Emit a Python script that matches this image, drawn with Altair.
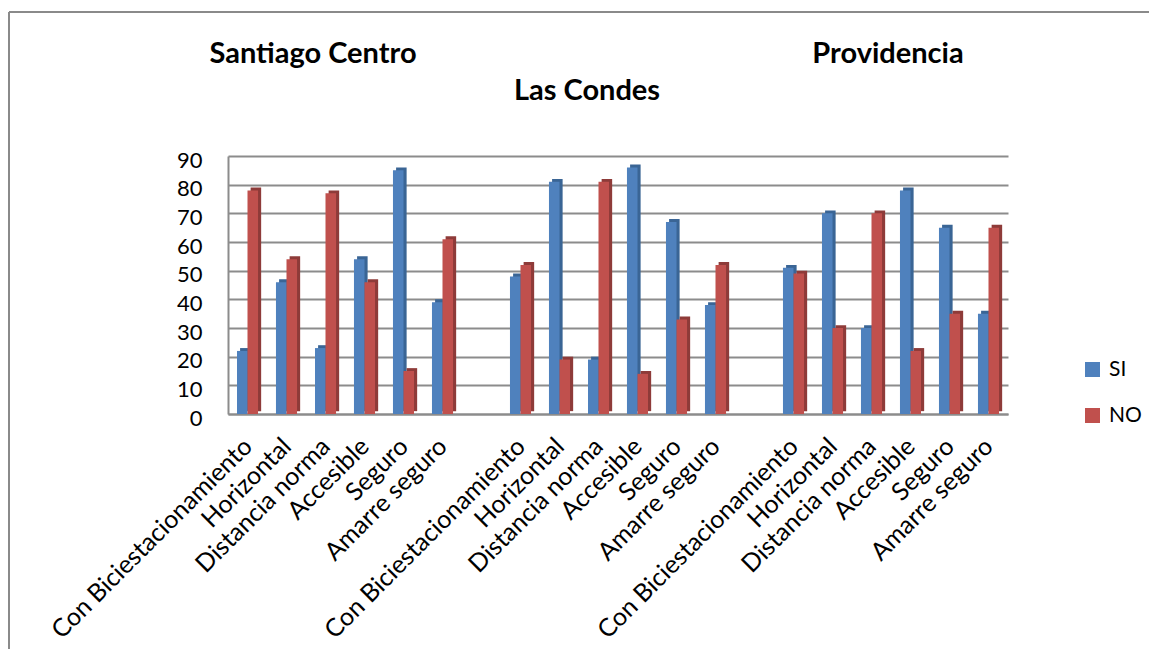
import altair as alt
import pandas as pd

groups = ["Santiago Centro", "Las Condes", "Providencia"]
categories = ["Con Biciestacionamiento", "Horizontal", "Distancia norma",
              "Accesible", "Seguro", "Amarre seguro"]
series = ["SI", "NO"]

sc_si = [22, 46, 23, 54, 85, 39]
sc_no = [78, 54, 77, 46, 15, 61]
lc_si = [48, 81, 19, 86, 67, 38]
lc_no = [52, 19, 81, 14, 33, 52]
pr_si = [51, 70, 30, 78, 65, 35]
pr_no = [49, 30, 70, 22, 35, 65]

values = {
    "Santiago Centro": (sc_si, sc_no),
    "Las Condes": (lc_si, lc_no),
    "Providencia": (pr_si, pr_no),
}

rows = []
slot_labels = []
slot = 0
for gi, g in enumerate(groups):
    si, no = values[g]
    for ci, c in enumerate(categories):
        rows.append({"slot": slot, "cat": c, "serie": "SI", "valor": si[ci]})
        rows.append({"slot": slot, "cat": c, "serie": "NO", "valor": no[ci]})
        slot_labels.append(c)
        slot += 1
    if gi < len(groups) - 1:
        slot_labels.append("")
        slot += 1
n_slots = slot
df = pd.DataFrame(rows)

BLUE, RED = "#4F81BD", "#C0504D"
BLUE_D, RED_D = "#3A6595", "#8E3B39"
FONT = "Lato"
GRID = "#8C8C8C"

label_expr = "[" + ",".join("'" + s + "'" for s in slot_labels) + "][floor(datum.value)]"
tick_vals = [i + 0.5 for i, s in enumerate(slot_labels) if s]

xscale = alt.Scale(domain=[0, n_slots], nice=False, zero=False)
yscale = alt.Scale(domain=[0, 90], nice=False)

xaxis = alt.Axis(values=tick_vals, labelExpr=label_expr, labelAngle=-45,
                 labelAlign="right", labelBaseline="middle",
                 labelFont=FONT, labelFontSize=25, labelColor="black",
                 labelPadding=28, labelLimit=0, ticks=False, grid=False,
                 domainColor=GRID, domainWidth=2, labelOverlap=False,
                 labelBound=False, labelFlush=False, title=None)
yaxis = alt.Axis(values=list(range(0, 91, 10)), labelFont=FONT,
                 labelFontSize=22, labelColor="black", labelPadding=26,
                 labelOffset=4, ticks=False, grid=True, gridColor=GRID,
                 gridWidth=2, domainColor=GRID, domainWidth=2, title=None)

base = alt.Chart(df).transform_calculate(
    x0="datum.serie == 'SI' ? datum.slot + 0.23 : datum.slot + 0.5",
    x1="datum.serie == 'SI' ? datum.slot + 0.5 : datum.slot + 0.77",
    y0="0",
)

shadow = base.transform_calculate(
    sx0="datum.x0 + 0.08",
    sx1="datum.x1 + 0.08",
    sy0="1",
    sy1="datum.valor + 1",
    sc="datum.serie == 'SI' ? '%s' : '%s'" % (BLUE_D, RED_D),
).mark_bar(binSpacing=0).encode(
    x=alt.X("sx0:Q", scale=xscale, axis=xaxis),
    x2="sx1:Q",
    y=alt.Y("sy0:Q", scale=yscale, axis=yaxis, stack=None),
    y2="sy1:Q",
    fill=alt.Fill("sc:N", scale=None),
)

front = base.mark_bar(binSpacing=0).encode(
    x=alt.X("x0:Q", scale=xscale, axis=xaxis),
    x2="x1:Q",
    y=alt.Y("y0:Q", scale=yscale, axis=yaxis, stack=None),
    y2="valor:Q",
    fill=alt.Fill("serie:N", scale=alt.Scale(domain=series, range=[BLUE, RED]),
                  legend=alt.Legend(title=None, orient="none", legendX=854,
                                    legendY=203, symbolType="square",
                                    symbolSize=225, symbolStrokeWidth=0,
                                    labelFont=FONT, labelFontSize=21,
                                    labelColor="black", rowPadding=24,
                                    labelOffset=6)),
)

title_df = pd.DataFrame({"t": groups})

def title_layer(name, px, py):
    return alt.Chart(title_df).transform_filter(
        "datum.t == '%s'" % name).mark_text(
        font=FONT, fontSize=29, fontWeight="bold", color="black", align="center",
        baseline="alphabetic").encode(text="t:N", x=alt.value(px), y=alt.value(py))

titles = alt.layer(
    title_layer("Santiago Centro", 85, -93),
    title_layer("Providencia", 660, -93),
    title_layer("Las Condes", 359, -56),
)

one = alt.Chart(title_df).transform_filter("datum.t == 'Las Condes'")
frame_top = one.mark_rule(color="#8A8A8A", strokeWidth=2).encode(
    x=alt.value(-219), x2=alt.value(1200), y=alt.value(-144))
frame_left = one.mark_rule(color="#8A8A8A", strokeWidth=2).encode(
    x=alt.value(-219), y=alt.value(-144), y2=alt.value(800))

chart = alt.layer(shadow, front, frame_top, frame_left, titles).properties(
    width=780, height=258,
    background="white",
    autosize=alt.AutoSizeParams(type="none"),
    padding={"left": 220, "top": 148, "right": 141, "bottom": 235},
).configure_view(stroke=None)

chart.save("out.html", embed_options={"renderer": "svg", "actions": False})
